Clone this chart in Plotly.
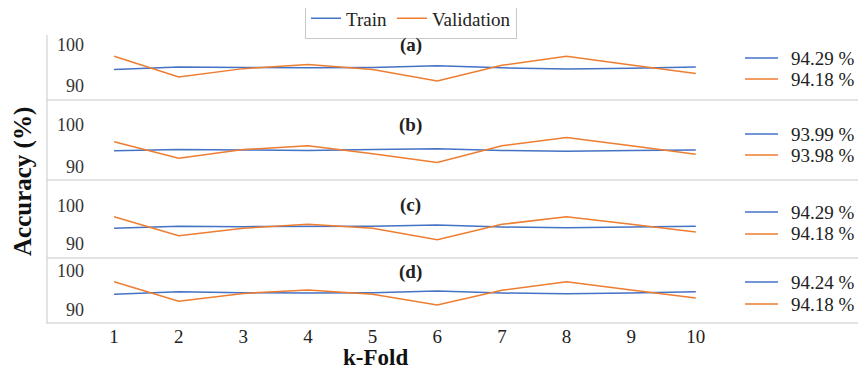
import plotly.graph_objects as go
from plotly.subplots import make_subplots

folds = [1, 2, 3, 4, 5, 6, 7, 8, 9, 10]
fold_labels = ["1", "2", "3", "4", "5", "6", "7", "8", "9", "10"]
panel_titles = ["(a)", "(b)", "(c)", "(d)"]
series_names = ["Train", "Validation"]

train_a = [94.0, 94.6, 94.5, 94.4, 94.5, 94.9, 94.4, 94.1, 94.3, 94.6]
val_a = [97.2, 92.2, 94.2, 95.2, 94.0, 91.2, 95.0, 97.2, 95.1, 93.0]
train_b = [93.8, 94.1, 94.0, 93.9, 94.1, 94.3, 93.9, 93.7, 93.9, 94.0]
val_b = [96.0, 92.0, 94.1, 95.0, 93.1, 91.0, 95.0, 97.0, 95.0, 93.0]
train_c = [94.0, 94.5, 94.4, 94.4, 94.5, 94.8, 94.3, 94.1, 94.3, 94.5]
val_c = [97.0, 92.0, 94.0, 95.0, 94.0, 91.0, 95.0, 97.0, 95.0, 93.0]
train_d = [94.0, 94.6, 94.4, 94.3, 94.4, 94.8, 94.3, 94.1, 94.3, 94.6]
val_d = [97.2, 92.2, 94.2, 95.1, 94.0, 91.2, 95.0, 97.2, 95.1, 93.0]

train_labels = ["94.29 %", "93.99 %", "94.29 %", "94.24 %"]
val_labels = ["94.18 %", "93.98 %", "94.18 %", "94.18 %"]

trains = [train_a, train_b, train_c, train_d]
vals = [val_a, val_b, val_c, val_d]

BLUE = "#4472C4"
ORANGE = "#ED7D31"
FONT = "Liberation Serif"

# page body has an 8px margin: work in screen pixels, convert to figure pixels
OFF = 8
W, H = 866 - OFF, 372 - OFF
PL, PR, PT, PB = 85, 710, 22, 323          # plot area in screen pixels
L, R, T, B = PL - OFF, W - (PR - OFF), PT - OFF, H - (PB - OFF)
PW, PH = PR - PL, PB - PT


def xp(sx):
    return (sx - PL) / PW


def yp(sy):
    return (PB - sy) / PH


# panel pixel boundaries (top, bottom) in screen pixels
bounds = [(22, 100), (100, 180), (180, 258), (258, 323)]
yranges = [[86.6, 105.5], [86.8, 106.0], [86.2, 106.6], [86.6, 103.3]]

fig = make_subplots(rows=4, cols=1, shared_xaxes=True, vertical_spacing=0)

for i in range(4):
    fig.add_trace(go.Scatter(x=folds, y=trains[i], mode="lines", name=series_names[0],
                             line=dict(color=BLUE, width=1.5), showlegend=(i == 0)),
                  row=i + 1, col=1)
    fig.add_trace(go.Scatter(x=folds, y=vals[i], mode="lines", name=series_names[1],
                             line=dict(color=ORANGE, width=1.5), showlegend=(i == 0)),
                  row=i + 1, col=1)

layout_extra = {}
for i in range(4):
    top, bot = bounds[i]
    yname = "yaxis" if i == 0 else "yaxis%d" % (i + 1)
    xname = "xaxis" if i == 0 else "xaxis%d" % (i + 1)
    layout_extra[yname] = dict(domain=[yp(bot), yp(top)], range=yranges[i],
                               tickvals=[90, 100], ticktext=["90", "100"],
                               showgrid=False, zeroline=False, showline=False,
                               ticks="", tickfont=dict(family=FONT, size=18, color="#333"))
    layout_extra[xname] = dict(range=[0.55, 10.22], showgrid=False, zeroline=False,
                               showline=False, tickvals=folds, ticktext=fold_labels,
                               showticklabels=(i == 3), ticks="",
                               tickfont=dict(family=FONT, size=19, color="#222"))
fig.update_layout(**layout_extra)

fig.update_layout(
    width=W, height=H,
    font=dict(family=FONT),
    margin=dict(l=L, r=R, t=T, b=B, autoexpand=False),
    paper_bgcolor="white", plot_bgcolor="white",
    legend=dict(orientation="h", x=xp(411), xanchor="center", y=yp(18.5), yanchor="middle",
                font=dict(family=FONT, size=19, color="#222"),
                bordercolor="#C8C8C8", borderwidth=1, bgcolor="white",
                itemwidth=30),
)

shapes = []
# separators and left line
for py in [100, 180, 258, 323]:
    shapes.append(dict(type="line", xref="paper", yref="paper", x0=xp(46), x1=xp(866),
                       y0=yp(py), y1=yp(py), line=dict(color="#DADADA", width=1.5)))
shapes.append(dict(type="line", xref="paper", yref="paper", x0=xp(47), x1=xp(47),
                   y0=yp(323), y1=yp(35), line=dict(color="#DADADA", width=1.5)))

ann = []
label_y = [(58, 79), (134, 155), (212, 234), (282, 304)]
for i in range(4):
    for j, (txt, col) in enumerate([(train_labels[i], BLUE), (val_labels[i], ORANGE)]):
        sy = label_y[i][j]
        shapes.append(dict(type="line", xref="paper", yref="paper", x0=xp(745), x1=xp(778),
                           y0=yp(sy), y1=yp(sy), line=dict(color=col, width=1.5)))
        ann.append(dict(text=txt, xref="paper", yref="paper", x=xp(789), y=yp(sy),
                        xanchor="left", yanchor="middle", showarrow=False,
                        font=dict(family=FONT, size=19, color="#222")))
fig.update_layout(shapes=shapes)

title_y = [45, 125, 205, 272]
for i in range(4):
    ann.append(dict(text="<b>%s</b>" % panel_titles[i], xref="paper", yref="paper",
                    x=xp(411), y=yp(title_y[i]), xanchor="center", yanchor="middle",
                    showarrow=False, font=dict(family=FONT, size=19, color="#222")))
ann.append(dict(text="<b>Accuracy (%)</b>", xref="paper", yref="paper", x=xp(23), y=yp(182),
                xanchor="center", yanchor="middle",
                textangle=-90, showarrow=False, font=dict(family=FONT, size=25, color="#111")))
ann.append(dict(text="<b>k-Fold</b>", xref="paper", yref="paper", x=xp(375), y=yp(357),
                xanchor="center", yanchor="middle",
                showarrow=False, font=dict(family=FONT, size=23, color="#111")))
fig.update_layout(annotations=ann)

fig.write_html("out.html")
